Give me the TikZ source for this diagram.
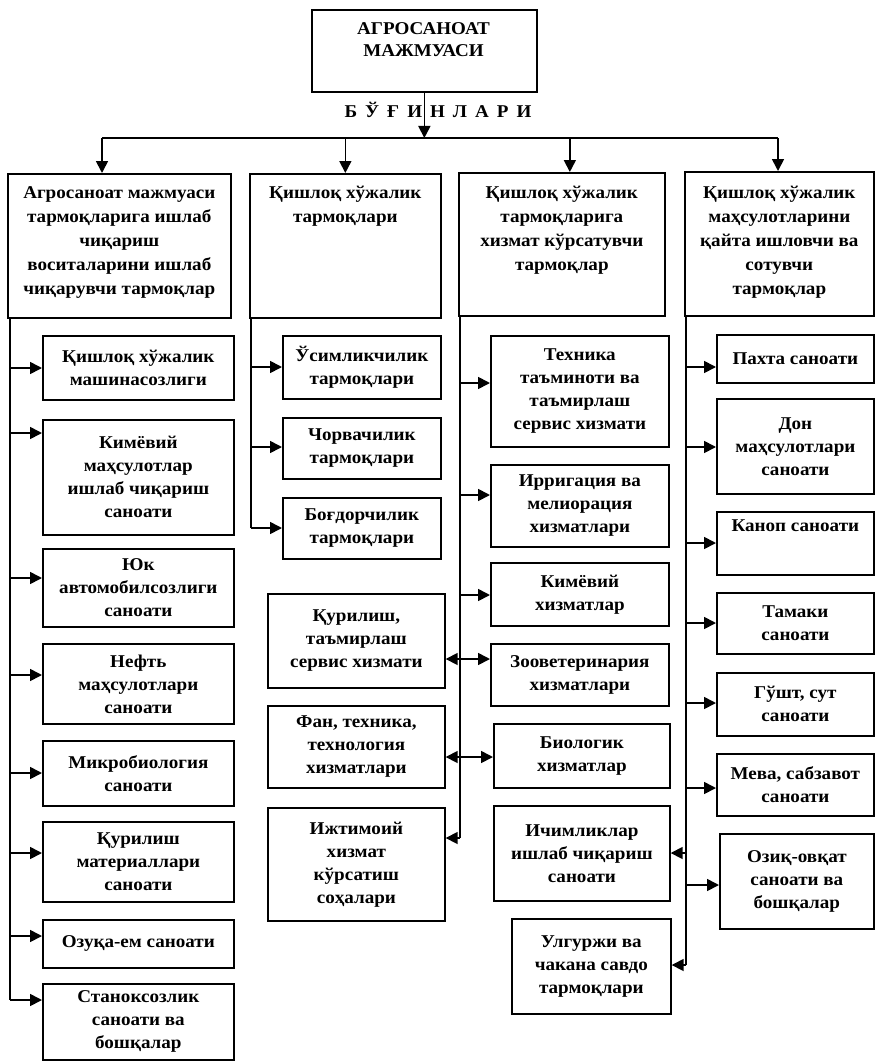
\documentclass[tikz,border=0pt]{standalone}
\usepackage{fontspec}
\setmainfont{Liberation Serif}[FakeStretch=1.06]
\usetikzlibrary{arrows.meta}
\begin{document}
\begin{tikzpicture}[x=1pt,y=-1pt,
  box/.style={draw, line width=1.7pt, inner sep=0pt, anchor=north west, align=center,
    font=\bfseries\fontsize{18}{23}\selectfont},
  txt/.style={inner sep=0pt, align=center, font=\bfseries\fontsize{18}{24}\selectfont},
  ln/.style={line width=1.7pt},
  arr/.style={line width=1.7pt, -{Triangle[length=12pt,width=12pt]}},
  darr/.style={line width=1.7pt, {Triangle[length=12pt,width=12pt]}-{Triangle[length=12pt,width=12pt]}}]
\useasboundingbox (0,0) rectangle (875,1062);

% top
\node[box, minimum width=225pt, minimum height=82pt] (top) at (311,9) {};
\node[txt, anchor=north, font=\bfseries\fontsize{18}{22}\selectfont] (topt) at (423.5,22) {АГРОСАНОАТ\\МАЖМУАСИ};
\node[txt] (bug) at (438,110) {Б\hspace{8pt}Ў\hspace{8pt}Ғ\hspace{8pt}И\hspace{8pt}Н\hspace{8pt}Л\hspace{8pt}А\hspace{8pt}Р\hspace{8pt}И};

% level 1 boxes
\node[box, minimum width=223pt, minimum height=144pt] (b1) at (7,173) {};
\node[box, minimum width=191pt, minimum height=144pt] (b2) at (249,173) {};
\node[box, minimum width=206pt, minimum height=143pt] (b3) at (458,172) {};
\node[box, minimum width=189pt, minimum height=144pt] (b4) at (684,171) {};
\node[txt, anchor=north] (b1t) at (b1.north |- 0,186) {Агросаноат мажмуаси\\тармоқларига ишлаб\\чиқариш\\воситаларини ишлаб\\чиқарувчи тармоқлар};
\node[txt, anchor=north] (b2t) at (b2.north |- 0,186) {Қишлоқ хўжалик\\тармоқлари};
\node[txt, anchor=north] (b3t) at (b3.north |- 0,186) {Қишлоқ хўжалик\\тармоқларига\\хизмат кўрсатувчи\\тармоқлар};
\node[txt, anchor=north] (b4t) at (b4.north |- 0,186) {Қишлоқ хўжалик\\маҳсулотларини\\қайта ишловчи ва\\сотувчи\\тармоқлар};

% bus
\coordinate (busL) at (102,138);
\coordinate (busR) at (778,138);
\draw[arr] (top.south) -- (top.south |- busL);
\draw[ln] (busL) -- (busR);
\draw[arr] (busL) -- (busL |- b1.north);
\draw[arr] (b2.north |- busL) -- (b2.north);
\draw[arr] ([xshift=8pt]b3.north |- busL) -- ([xshift=8pt]b3.north);
\draw[arr] (busR) -- (busR |- b4.north);

% column 1
\node[box, minimum width=191pt, minimum height=64pt] (s11) at (42,335) {Қишлоқ хўжалик\\машинасозлиги};
\node[box, minimum width=191pt, minimum height=115pt] (s12) at (42,419) {Кимёвий\\маҳсулотлар\\ишлаб чиқариш\\саноати};
\node[box, minimum width=191pt, minimum height=78pt] (s13) at (42,548) {Юк\\автомобилсозлиги\\саноати};
\node[box, minimum width=191pt, minimum height=80pt] (s14) at (42,643) {Нефть\\маҳсулотлари\\саноати};
\node[box, minimum width=191pt, minimum height=65pt] (s15) at (42,740) {Микробиология\\саноати};
\node[box, minimum width=191pt, minimum height=80pt] (s16) at (42,821) {Қурилиш\\материаллари\\саноати};
\node[box, minimum width=191pt, minimum height=48pt] (s17) at (42,919) {Озуқа-ем саноати};
\node[box, minimum width=191pt, minimum height=76pt] (s18) at (42,983) {Станоксозлик\\саноати ва\\бошқалар};
\coordinate (v1) at (10,317);
\draw[ln] (v1) -- (v1 |- 0,1000);
\draw[arr] (v1 |- 0,368) -- (s11.west |- 0,368);
\draw[arr] (v1 |- 0,433) -- (s12.west |- 0,433);
\draw[arr] (v1 |- 0,578) -- (s13.west |- 0,578);
\draw[arr] (v1 |- 0,675) -- (s14.west |- 0,675);
\draw[arr] (v1 |- 0,773) -- (s15.west |- 0,773);
\draw[arr] (v1 |- 0,853) -- (s16.west |- 0,853);
\draw[arr] (v1 |- 0,936) -- (s17.west |- 0,936);
\draw[arr] (v1 |- 0,1000) -- (s18.west |- 0,1000);

% column 2
\node[box, minimum width=158pt, minimum height=63pt] (s21) at (282,335) {Ўсимликчилик\\тармоқлари};
\node[box, minimum width=158pt, minimum height=61pt] (s22) at (282,417) {Чорвачилик\\тармоқлари};
\node[box, minimum width=158pt, minimum height=61pt] (s23) at (282,497) {Боғдорчилик\\тармоқлари};
\node[box, minimum width=177pt, minimum height=94pt] (s24) at (267,593) {Қурилиш,\\таъмирлаш\\сервис хизмати};
\node[box, minimum width=177pt, minimum height=82pt] (s25) at (267,705) {Фан, техника,\\технология\\хизматлари};
\node[box, minimum width=177pt, minimum height=113pt] (s26) at (267,807) {Ижтимоий\\хизмат\\кўрсатиш\\соҳалари};
\coordinate (v2) at (251,317);
\draw[ln] (v2) -- (v2 |- 0,528);
\draw[arr] (v2 |- 0,367) -- (s21.west |- 0,367);
\draw[arr] (v2 |- 0,447) -- (s22.west |- 0,447);
\draw[arr] (v2 |- 0,528) -- (s23.west |- 0,528);

% column 3
\node[box, minimum width=178pt, minimum height=111pt] (s31) at (490,335) {Техника\\таъминоти ва\\таъмирлаш\\сервис хизмати};
\node[box, minimum width=178pt, minimum height=82pt] (s32) at (490,464) {Ирригация ва\\мелиорация\\хизматлари};
\node[box, minimum width=178pt, minimum height=63pt] (s33) at (490,562) {Кимёвий\\хизматлар};
\node[box, minimum width=178pt, minimum height=62pt] (s34) at (490,643) {Зооветеринария\\хизматлари};
\node[box, minimum width=176pt, minimum height=64pt] (s35) at (493,723) {Биологик\\хизматлар};
\node[box, minimum width=176pt, minimum height=95pt] (s36) at (493,805) {Ичимликлар\\ишлаб чиқариш\\саноати};
\node[box, minimum width=159pt, minimum height=95pt] (s37) at (511,918) {Улгуржи ва\\чакана савдо\\тармоқлари};
\coordinate (v3) at (460,315);
\draw[ln] (v3) -- (v3 |- 0,838);
\draw[arr] (v3 |- 0,383) -- (s31.west |- 0,383);
\draw[arr] (v3 |- 0,495) -- (s32.west |- 0,495);
\draw[arr] (v3 |- 0,595) -- (s33.west |- 0,595);
\draw[arr] (v3 |- 0,659) -- (s34.west |- 0,659);
\draw[arr] (v3 |- 0,659) -- (s24.east |- 0,659);
\draw[darr] (s25.east |- 0,757) -- (s35.west |- 0,757);
\draw[arr] (v3 |- 0,838) -- (s26.east |- 0,838);

% column 4
\node[box, minimum width=157pt, minimum height=48pt] (s41) at (716,334) {Пахта саноати};
\node[box, minimum width=157pt, minimum height=95pt] (s42) at (716,398) {Дон\\маҳсулотлари\\саноати};
\node[box, minimum width=157pt, minimum height=63pt] (s43) at (716,511) {};
\node[txt, anchor=north] (s43t) at (s43.north |- 0,520) {Каноп саноати};
\node[box, minimum width=157pt, minimum height=61pt] (s44) at (716,592) {Тамаки\\саноати};
\node[box, minimum width=157pt, minimum height=63pt] (s45) at (716,672) {Гўшт, сут\\саноати};
\node[box, minimum width=157pt, minimum height=62pt] (s46) at (716,753) {Мева, сабзавот\\саноати};
\node[box, minimum width=154pt, minimum height=95pt] (s47) at (719,833) {Озиқ-овқат\\саноати ва\\бошқалар};
\coordinate (v4) at (686,315);
\draw[ln] (v4) -- (v4 |- 0,965);
\draw[arr] (v4 |- 0,367) -- (s41.west |- 0,367);
\draw[arr] (v4 |- 0,447) -- (s42.west |- 0,447);
\draw[arr] (v4 |- 0,543) -- (s43.west |- 0,543);
\draw[arr] (v4 |- 0,623) -- (s44.west |- 0,623);
\draw[arr] (v4 |- 0,703) -- (s45.west |- 0,703);
\draw[arr] (v4 |- 0,788) -- (s46.west |- 0,788);
\draw[arr] (v4 |- 0,885) -- (s47.west |- 0,885);
\draw[arr] (v4 |- 0,853) -- (s36.east |- 0,853);
\draw[arr] (v4 |- 0,965) -- (s37.east |- 0,965);
\end{tikzpicture}
\end{document}
